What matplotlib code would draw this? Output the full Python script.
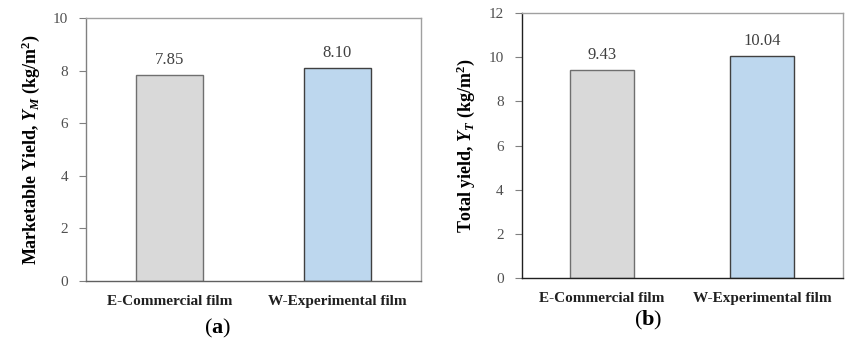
import matplotlib
matplotlib.use('Agg')
import matplotlib.pyplot as plt

# Dados
categories = ['E-Commercial film', 'W-Experimental film']
marketable_yield = [7.85, 8.10]
total_yield = [9.43, 10.04]
value_labels_a = ['7.85', '8.10']
value_labels_b = ['9.43', '10.04']
bar_colors = ['#d9d9d9', '#bdd7ee']
edge_colors = ['#6f6f6f', '#404040']

plt.rcParams['font.family'] = 'Liberation Serif'
plt.rcParams['mathtext.fontset'] = 'custom'
plt.rcParams['mathtext.rm'] = 'Liberation Serif:bold'
plt.rcParams['mathtext.it'] = 'Liberation Serif:italic:bold'
plt.rcParams['mathtext.bf'] = 'Liberation Serif:bold'

fig = plt.figure(figsize=(8.46, 3.42), dpi=100)
ax1 = fig.add_axes([0.1017, 0.179, 0.3956, 0.7675])
ax2 = fig.add_axes([0.6167, 0.187, 0.3793, 0.775])


def draw_panel(ax, values, labels, ymax, ylabel, left_color, bottom_color):
    x = range(len(categories))
    ax.bar(x, values, width=0.4, color=bar_colors, edgecolor=edge_colors, linewidth=1.0, zorder=2)
    for xi, v, lab in zip(x, values, labels):
        ax.annotate(lab, (xi, v), xytext=(0, 5), textcoords='offset points',
                    ha='center', va='bottom', fontsize=12, color='#404040')
    ax.set_xlim(-0.5, 1.5)
    ax.set_ylim(0, ymax)
    ax.set_yticks(range(0, ymax + 1, 2))
    ax.set_xticks(list(x))
    ax.set_xticklabels(categories, fontsize=11, fontweight='bold', color='#202020')
    ax.tick_params(axis='x', length=0, pad=10)
    ax.tick_params(axis='y', length=5, width=0.8, color='#808080', labelsize=11,
                   labelcolor='#505050', pad=8)
    for s in ['top', 'right']:
        ax.spines[s].set_color('#a0a0a0')
        ax.spines[s].set_linewidth(1.0)
    ax.spines['left'].set_color(left_color)
    ax.spines['bottom'].set_color(bottom_color)
    ax.spines['left'].set_linewidth(1.0)
    ax.spines['bottom'].set_linewidth(1.0)
    ax.set_ylabel(ylabel, fontsize=13, fontweight='bold', labelpad=8)


draw_panel(ax1, marketable_yield, value_labels_a, 10,
           r'Marketable Yield, $Y_{M}$ (kg/m$^{2}$)', '#808080', '#606060')
draw_panel(ax2, total_yield, value_labels_b, 12,
           r'Total yield, $Y_{T}$ (kg/m$^{2}$)', '#202020', '#202020')

# Rotulos dos paineis
fig.text(218 / 846, 1 - 328 / 342, r'($\mathbf{a}$)', fontsize=16, ha='center', va='center')
fig.text(648 / 846, 1 - 320 / 342, r'($\mathbf{b}$)', fontsize=16, ha='center', va='center')

fig.savefig('out.png', dpi=100)
